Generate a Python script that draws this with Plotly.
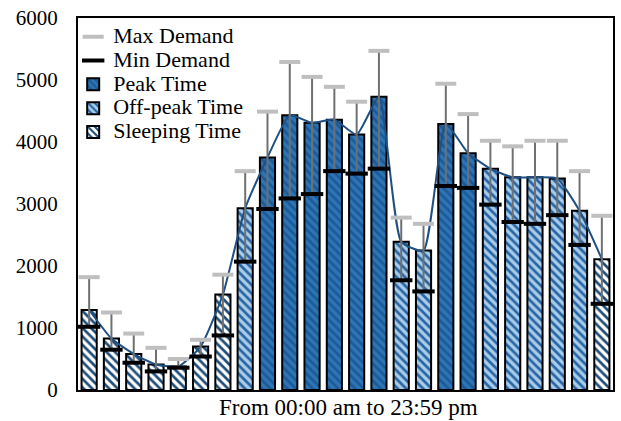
import plotly.graph_objects as go

hours = list(range(24))
avg_demand = [1290, 830, 580, 410, 380, 700, 1540, 2930, 3750, 4430, 4310, 4360,
              4120, 4730, 2390, 2250, 4290, 3820, 3570, 3430, 3430, 3410, 2890, 2110]
min_demand = [1020, 650, 440, 300, 360, 540, 880, 2070, 2920, 3090, 3160, 3530,
              3490, 3570, 1770, 1590, 3290, 3260, 2990, 2710, 2680, 2820, 2340, 1390]
max_demand = [1820, 1250, 910, 680, 500, 810, 1860, 3530, 4490, 5290, 5050, 4890,
              4650, 5470, 2780, 2680, 4940, 4450, 4020, 3930, 4020, 4020, 3530, 2810]
period = ["S", "S", "S", "S", "S", "S", "S", "O", "P", "P", "P", "P",
          "P", "P", "O", "O", "P", "P", "O", "O", "O", "O", "O", "S"]
y_ticks = [0, 1000, 2000, 3000, 4000, 5000, 6000]
x_title = "From 00:00 am to 23:59 pm"

FONT = "Liberation Serif"


def big(label):
    return f"<span style='font-size:22px'>{label}</span>"


styles = {
    "P": ("Peak Time", "#2E75B6", "#1B5A96", 3),
    "O": ("Off-peak Time", "#A9CCEA", "#2865A3", 4),
    "S": ("Sleeping Time", "#FFFFFF", "#1F4E79", 5),
}

fig = go.Figure()
for key, (name, bg, fg, rank) in styles.items():
    xs = [h for h, p in zip(hours, period) if p == key]
    ys = [v for v, p in zip(avg_demand, period) if p == key]
    fig.add_trace(go.Bar(
        x=xs, y=ys, name=big(name), width=0.68, legendrank=rank,
        marker=dict(color=bg, line=dict(color="black", width=2),
                    pattern=dict(shape="\\", bgcolor=bg, fgcolor=fg,
                                 size=6, solidity=0.45, fillmode="replace")),
    ))

# average line
fig.add_trace(go.Scatter(
    x=hours, y=avg_demand, mode="lines", showlegend=False,
    line=dict(color="#1F5083", width=2, shape="spline", smoothing=0.5),
    hoverinfo="skip",
))

# range line min->max
fig.add_trace(go.Scatter(
    x=hours, y=min_demand, mode="markers", showlegend=False,
    marker=dict(size=1, color="rgba(0,0,0,0)"),
    error_y=dict(type="data", symmetric=False,
                 array=[mx - mn for mx, mn in zip(max_demand, min_demand)],
                 arrayminus=[0] * 24, color="#707070", thickness=2, width=0),
))

fig.add_trace(go.Scatter(
    x=hours, y=max_demand, mode="markers", name=big("Max Demand"), legendrank=1,
    marker=dict(symbol="line-ew", size=15, color="#BFBFBF",
                line=dict(color="#BFBFBF", width=4)),
))
fig.add_trace(go.Scatter(
    x=hours, y=min_demand, mode="markers", name=big("Min Demand"), legendrank=2,
    marker=dict(symbol="line-ew", size=16, color="black",
                line=dict(color="black", width=4)),
))

fig.update_layout(
    width=621, height=421,
    margin=dict(l=78, r=6, t=17, b=31),
    plot_bgcolor="white", paper_bgcolor="white",
    barmode="overlay",
    font=dict(family=FONT, color="black"),
    showlegend=True,
    legend=dict(x=-0.009, y=0.995, xanchor="left", yanchor="top",
                bgcolor="rgba(0,0,0,0)", font=dict(family=FONT, size=16),
                itemwidth=30, tracegroupgap=0),
    xaxis=dict(range=[-0.5, 23.5], showticklabels=False, ticks="",
               showline=True, linecolor="black", linewidth=2, mirror=True,
               showgrid=False, zeroline=False),
    yaxis=dict(range=[0, 6000], tickvals=y_ticks, ticks="",
               ticklabelstandoff=14,
               tickfont=dict(family=FONT, size=21),
               showline=True, linecolor="black", linewidth=2, mirror=True,
               showgrid=False, zeroline=False),
    annotations=[dict(text=x_title, xref="paper", yref="paper", x=0.505,
                      y=-0.048, xanchor="center", yanchor="middle",
                      showarrow=False, font=dict(family=FONT, size=23))],
)

fig.write_html("out.html", config={"displayModeBar": False},
               post_script="document.body.style.margin='0';document.body.style.overflow='hidden';")
